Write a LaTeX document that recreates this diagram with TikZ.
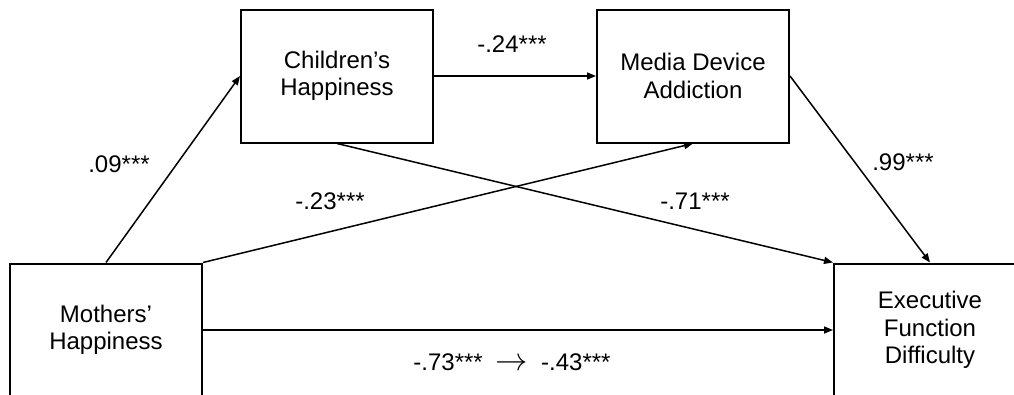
\documentclass[tikz,border=0pt]{standalone}
\usepackage{fontspec}
\setmainfont{Liberation Sans}
\usetikzlibrary{arrows.meta}
\begin{document}
\begin{tikzpicture}[x=1pt,y=-1pt,
  box/.style={draw,line width=2pt,minimum width=192pt,minimum height=133pt,align=center,font=\fontsize{24}{27.5}\selectfont,inner sep=0pt},
  lbl/.style={font=\fontsize{24}{27.5}\selectfont,inner sep=0pt},
  arr/.style={line width=1.5pt,-{Triangle[length=9pt,width=7pt]}}]
\useasboundingbox (0,0) rectangle (1014,394);
\node[box] (mh) at (106,330) {Mothers’\\Happiness};
\node[box] (ch) at (337,76) {Children’s\\Happiness};
\node[box] (md) at (693,76) {Media Device\\Addiction};
\node[box] (ef) at (930,330) {Executive\\Function\\Difficulty};
\draw[arr] (mh.north) -- (ch.west);
\draw[arr] (mh.north east) -- (md.south);
\draw[arr] (ch.south) -- (ef.north west);
\draw[arr] (ch.east) -- (md.west);
\draw[arr] (md.east) -- (ef.north);
\draw[arr] (mh.east) -- (ef.west);
\node[lbl] (l1) at (119,164) {.09***};
\node[lbl] (l2) at (512,44) {-.24***};
\node[lbl] (l3) at (330,201) {-.23***};
\node[lbl] (l4) at (695,201) {-.71***};
\node[lbl] (l5) at (903,162) {.99***};
\node[lbl] (l6) at (512,362) {-.73***\hspace{13pt}\scalebox{1.3}{$\rightarrow$}\hspace{13pt}-.43***};
\end{tikzpicture}
\end{document}
